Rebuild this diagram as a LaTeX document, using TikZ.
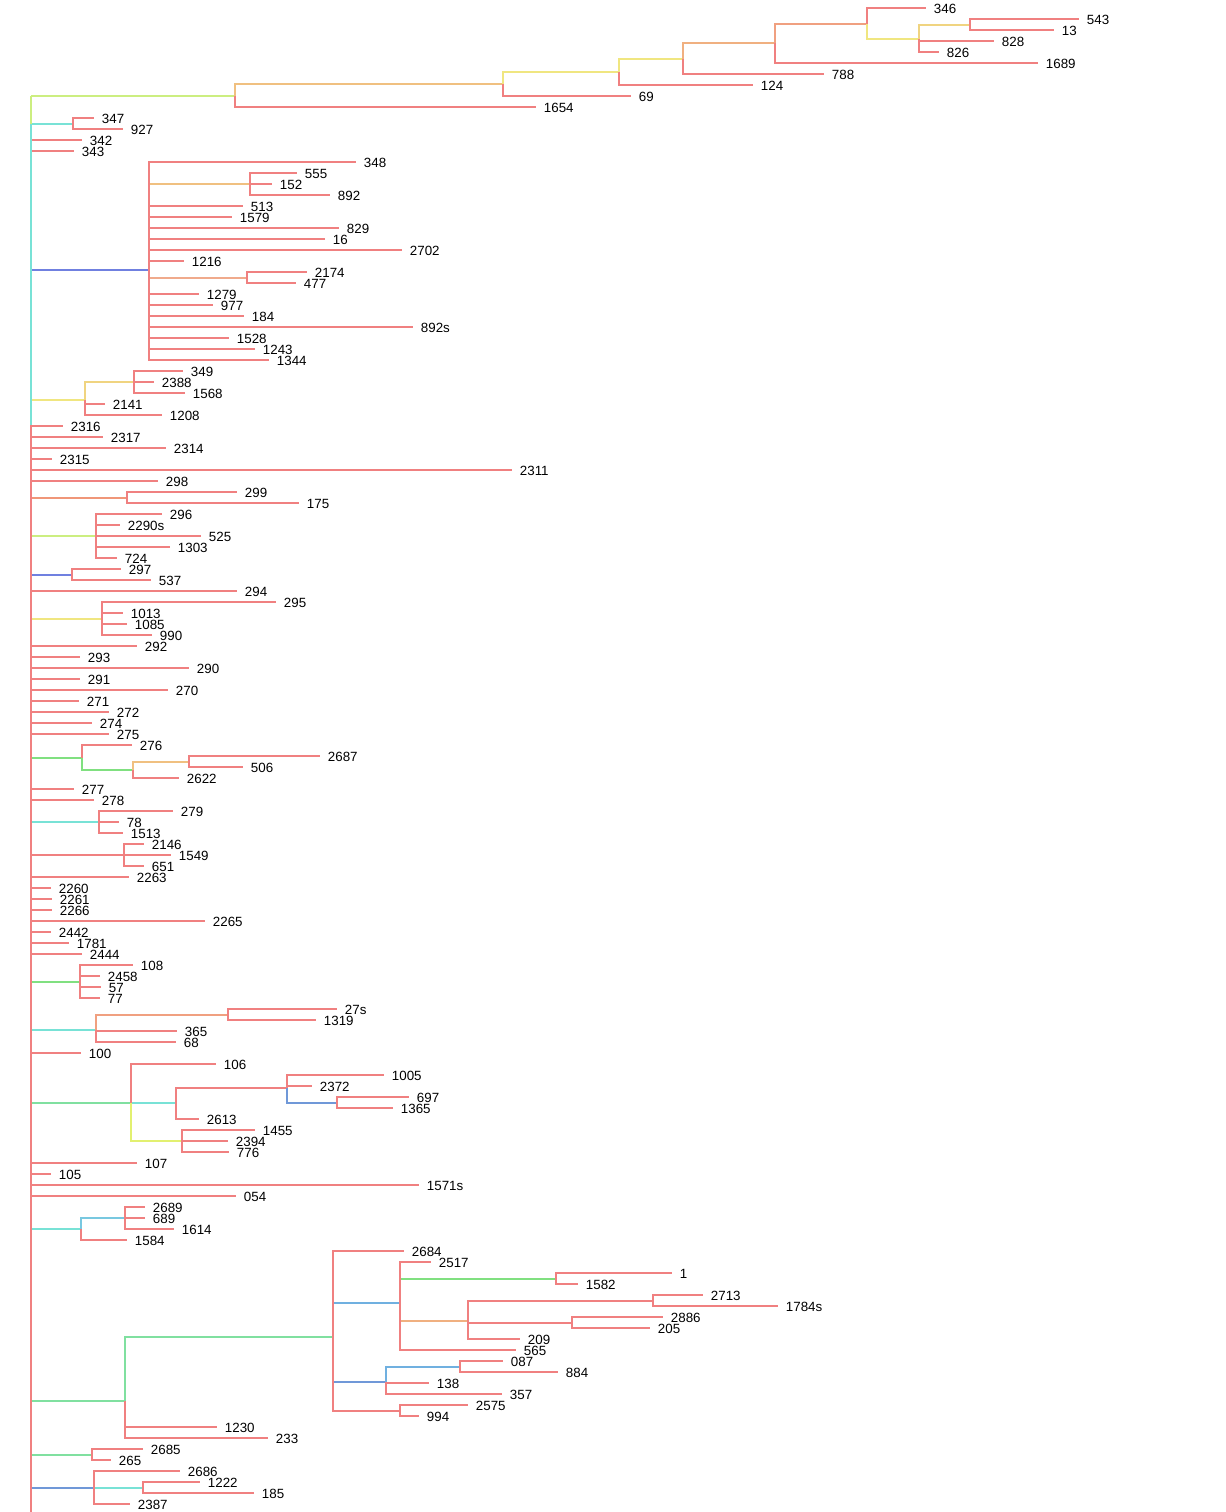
\documentclass[tikz,border=0pt]{standalone}
\usepackage{fontspec}
\setmainfont{Liberation Sans}
\usepackage{xcolor}

\definecolor{tred}{RGB}{240,128,128}
\definecolor{tcyan}{RGB}{120,226,214}
\definecolor{tblue}{RGB}{112,128,224}
\definecolor{tlime}{RGB}{204,238,128}
\definecolor{tchart}{RGB}{226,240,112}
\definecolor{torange}{RGB}{240,192,128}
\definecolor{tamber}{RGB}{240,176,128}
\definecolor{tyellow}{RGB}{240,230,128}
\definecolor{tgold}{RGB}{240,212,128}
\definecolor{tsalmon}{RGB}{240,160,128}
\definecolor{tcoral}{RGB}{240,150,120}
\definecolor{tpeach}{RGB}{240,170,140}
\definecolor{tgreen}{RGB}{128,224,128}
\definecolor{tmint}{RGB}{128,224,160}
\definecolor{tsky}{RGB}{120,200,224}
\definecolor{tazure}{RGB}{112,176,224}
\definecolor{tsteel}{RGB}{112,152,216}

\begin{document}
\begin{tikzpicture}[
        x=0.02cm, y=-0.02cm,
        line width=1.6pt,
        leaf/.style={anchor=west, inner xsep=0.13cm, inner ysep=0pt,
                text height=0.215cm, text depth=0pt,
                font=\fontsize{7.6}{9}\selectfont}
    ]
    \useasboundingbox (0,0) rectangle (1225,1512);

    % internal nodes
    \coordinate (root) at (31,96);
    \coordinate (split) at (31,425);
    \coordinate (bottom) at (31,1512);
    \coordinate (n1654) at (235,96);
    \coordinate (n69) at (503,84);
    \coordinate (n124) at (619,72);
    \coordinate (n788) at (683,59);
    \coordinate (n1689) at (775,43);
    \coordinate (n346) at (867,24);
    \coordinate (n828) at (919,39);
    \coordinate (n543) at (970,25);
    \coordinate (n347) at (73,124);
    \coordinate (n348) at (149,270);
    \coordinate (n555) at (250,184);
    \coordinate (n2174) at (247,278);
    \coordinate (n2141) at (85,400);
    \coordinate (n349) at (134,382);
    \coordinate (n299) at (127,498);
    \coordinate (n296) at (96,536);
    \coordinate (n297) at (72,575);
    \coordinate (n295) at (102,619);
    \coordinate (n276) at (82,758);
    \coordinate (n2622) at (133,770);
    \coordinate (n2687) at (189,762);
    \coordinate (n279) at (99,822);
    \coordinate (n2146) at (124,855);
    \coordinate (n108) at (80,982);
    \coordinate (n365) at (96,1030);
    \coordinate (n27s) at (228,1015);
    \coordinate (n106) at (131,1103);
    \coordinate (n2613) at (176,1103);
    \coordinate (n1005) at (287,1088);
    \coordinate (n697) at (337,1103);
    \coordinate (n1455) at (182,1141);
    \coordinate (n1584) at (81,1229);
    \coordinate (n2689) at (125,1218);
    \coordinate (n1230) at (125,1401);
    \coordinate (n2684) at (333,1337);
    \coordinate (n2517) at (400,1303);
    \coordinate (n1) at (556,1279);
    \coordinate (n209) at (468,1321);
    \coordinate (n2713) at (653,1301);
    \coordinate (n2886) at (572,1323);
    \coordinate (n087) at (386,1382);
    \coordinate (n884) at (460,1367);
    \coordinate (n2575) at (400,1411);
    \coordinate (n2685) at (92,1455);
    \coordinate (n2686) at (94,1488);
    \coordinate (n1222) at (143,1488);

    % tips
    \node[leaf] (t346) at (926,8) {346};
    \node[leaf] (t543) at (1079,19) {543};
    \node[leaf] (t13) at (1054,30) {13};
    \node[leaf] (t828) at (994,41) {828};
    \node[leaf] (t826) at (939,52) {826};
    \node[leaf] (t1689) at (1038,63) {1689};
    \node[leaf] (t788) at (824,74) {788};
    \node[leaf] (t124) at (753,85) {124};
    \node[leaf] (t69) at (631,96) {69};
    \node[leaf] (t1654) at (536,107) {1654};
    \node[leaf] (t347) at (94,118) {347};
    \node[leaf] (t927) at (123,129) {927};
    \node[leaf] (t342) at (82,140) {342};
    \node[leaf] (t343) at (74,151) {343};
    \node[leaf] (t348) at (356,162) {348};
    \node[leaf] (t555) at (297,173) {555};
    \node[leaf] (t152) at (272,184) {152};
    \node[leaf] (t892) at (330,195) {892};
    \node[leaf] (t513) at (243,206) {513};
    \node[leaf] (t1579) at (232,217) {1579};
    \node[leaf] (t829) at (339,228) {829};
    \node[leaf] (t16) at (325,239) {16};
    \node[leaf] (t2702) at (402,250) {2702};
    \node[leaf] (t1216) at (184,261) {1216};
    \node[leaf] (t2174) at (307,272) {2174};
    \node[leaf] (t477) at (296,283) {477};
    \node[leaf] (t1279) at (199,294) {1279};
    \node[leaf] (t977) at (213,305) {977};
    \node[leaf] (t184) at (244,316) {184};
    \node[leaf] (t892s) at (413,327) {892s};
    \node[leaf] (t1528) at (229,338) {1528};
    \node[leaf] (t1243) at (255,349) {1243};
    \node[leaf] (t1344) at (269,360) {1344};
    \node[leaf] (t349) at (183,371) {349};
    \node[leaf] (t2388) at (154,382) {2388};
    \node[leaf] (t1568) at (185,393) {1568};
    \node[leaf] (t2141) at (105,404) {2141};
    \node[leaf] (t1208) at (162,415) {1208};
    \node[leaf] (t2316) at (63,426) {2316};
    \node[leaf] (t2317) at (103,437) {2317};
    \node[leaf] (t2314) at (166,448) {2314};
    \node[leaf] (t2315) at (52,459) {2315};
    \node[leaf] (t2311) at (512,470) {2311};
    \node[leaf] (t298) at (158,481) {298};
    \node[leaf] (t299) at (237,492) {299};
    \node[leaf] (t175) at (299,503) {175};
    \node[leaf] (t296) at (162,514) {296};
    \node[leaf] (t2290s) at (120,525) {2290s};
    \node[leaf] (t525) at (201,536) {525};
    \node[leaf] (t1303) at (170,547) {1303};
    \node[leaf] (t724) at (117,558) {724};
    \node[leaf] (t297) at (121,569) {297};
    \node[leaf] (t537) at (151,580) {537};
    \node[leaf] (t294) at (237,591) {294};
    \node[leaf] (t295) at (276,602) {295};
    \node[leaf] (t1013) at (123,613) {1013};
    \node[leaf] (t1085) at (127,624) {1085};
    \node[leaf] (t990) at (152,635) {990};
    \node[leaf] (t292) at (137,646) {292};
    \node[leaf] (t293) at (80,657) {293};
    \node[leaf] (t290) at (189,668) {290};
    \node[leaf] (t291) at (80,679) {291};
    \node[leaf] (t270) at (168,690) {270};
    \node[leaf] (t271) at (79,701) {271};
    \node[leaf] (t272) at (109,712) {272};
    \node[leaf] (t274) at (92,723) {274};
    \node[leaf] (t275) at (109,734) {275};
    \node[leaf] (t276) at (132,745) {276};
    \node[leaf] (t2687) at (320,756) {2687};
    \node[leaf] (t506) at (243,767) {506};
    \node[leaf] (t2622) at (179,778) {2622};
    \node[leaf] (t277) at (74,789) {277};
    \node[leaf] (t278) at (94,800) {278};
    \node[leaf] (t279) at (173,811) {279};
    \node[leaf] (t78) at (119,822) {78};
    \node[leaf] (t1513) at (123,833) {1513};
    \node[leaf] (t2146) at (144,844) {2146};
    \node[leaf] (t1549) at (171,855) {1549};
    \node[leaf] (t651) at (144,866) {651};
    \node[leaf] (t2263) at (129,877) {2263};
    \node[leaf] (t2260) at (51,888) {2260};
    \node[leaf] (t2261) at (52,899) {2261};
    \node[leaf] (t2266) at (52,910) {2266};
    \node[leaf] (t2265) at (205,921) {2265};
    \node[leaf] (t2442) at (51,932) {2442};
    \node[leaf] (t1781) at (69,943) {1781};
    \node[leaf] (t2444) at (82,954) {2444};
    \node[leaf] (t108) at (133,965) {108};
    \node[leaf] (t2458) at (100,976) {2458};
    \node[leaf] (t57) at (101,987) {57};
    \node[leaf] (t77) at (100,998) {77};
    \node[leaf] (t27s) at (337,1009) {27s};
    \node[leaf] (t1319) at (316,1020) {1319};
    \node[leaf] (t365) at (177,1031) {365};
    \node[leaf] (t68) at (176,1042) {68};
    \node[leaf] (t100) at (81,1053) {100};
    \node[leaf] (t106) at (216,1064) {106};
    \node[leaf] (t1005) at (384,1075) {1005};
    \node[leaf] (t2372) at (312,1086) {2372};
    \node[leaf] (t697) at (409,1097) {697};
    \node[leaf] (t1365) at (393,1108) {1365};
    \node[leaf] (t2613) at (199,1119) {2613};
    \node[leaf] (t1455) at (255,1130) {1455};
    \node[leaf] (t2394) at (228,1141) {2394};
    \node[leaf] (t776) at (229,1152) {776};
    \node[leaf] (t107) at (137,1163) {107};
    \node[leaf] (t105) at (51,1174) {105};
    \node[leaf] (t1571s) at (419,1185) {1571s};
    \node[leaf] (t054) at (236,1196) {054};
    \node[leaf] (t2689) at (145,1207) {2689};
    \node[leaf] (t689) at (145,1218) {689};
    \node[leaf] (t1614) at (174,1229) {1614};
    \node[leaf] (t1584) at (127,1240) {1584};
    \node[leaf] (t2684) at (404,1251) {2684};
    \node[leaf] (t2517) at (431,1262) {2517};
    \node[leaf] (t1) at (672,1273) {1};
    \node[leaf] (t1582) at (578,1284) {1582};
    \node[leaf] (t2713) at (703,1295) {2713};
    \node[leaf] (t1784s) at (778,1306) {1784s};
    \node[leaf] (t2886) at (663,1317) {2886};
    \node[leaf] (t205) at (650,1328) {205};
    \node[leaf] (t209) at (520,1339) {209};
    \node[leaf] (t565) at (516,1350) {565};
    \node[leaf] (t087) at (503,1361) {087};
    \node[leaf] (t884) at (558,1372) {884};
    \node[leaf] (t138) at (429,1383) {138};
    \node[leaf] (t357) at (502,1394) {357};
    \node[leaf] (t2575) at (468,1405) {2575};
    \node[leaf] (t994) at (419,1416) {994};
    \node[leaf] (t1230) at (217,1427) {1230};
    \node[leaf] (t233) at (268,1438) {233};
    \node[leaf] (t2685) at (143,1449) {2685};
    \node[leaf] (t265) at (111,1460) {265};
    \node[leaf] (t2686) at (180,1471) {2686};
    \node[leaf] (t1222) at (200,1482) {1222};
    \node[leaf] (t185) at (254,1493) {185};
    \node[leaf] (t2387) at (130,1504) {2387};

    % top clade
    \draw[tlime] (root) -- (n1654);
    \draw[torange] (n1654) |- (n69);
    \draw[tred] (n1654) |- (t1654.west);
    \draw[tyellow] (n69) |- (n124);
    \draw[tred] (n69) |- (t69.west);
    \draw[tyellow] (n124) |- (n788);
    \draw[tred] (n124) |- (t124.west);
    \draw[tamber] (n788) |- (n1689);
    \draw[tred] (n788) |- (t788.west);
    \draw[tsalmon] (n1689) |- (n346);
    \draw[tred] (n1689) |- (t1689.west);
    \draw[tred] (n346) |- (t346.west);
    \draw[tyellow] (n346) |- (n828);
    \draw[tgold] (n828) |- (n543);
    \draw[tred] (n828) |- (t828.west) (n828) |- (t826.west);
    \draw[tred] (n543) |- (t543.west) (n543) |- (t13.west);

    % upper part of the spine
    \draw[tcyan] (root |- n347) -- (n347);
    \draw[tred] (n347) |- (t347.west) (n347) |- (t927.west);
    \draw[tred] (root |- t342.west) -- (t342.west);
    \draw[tred] (root |- t343.west) -- (t343.west);

    \draw[tblue] (root |- n348) -- (n348);
    \draw[torange] (n348) |- (n555);
    \draw[tpeach] (n348) |- (n2174);
    \draw[tred] (n555) |- (t555.west) (n555) |- (t152.west) (n555) |- (t892.west);
    \draw[tred] (n2174) |- (t2174.west) (n2174) |- (t477.west);
    \draw[tred] (n348) |- (t348.west) (n348) |- (t513.west) (n348) |- (t1579.west)
        (n348) |- (t829.west) (n348) |- (t16.west) (n348) |- (t2702.west)
        (n348) |- (t1216.west) (n348) |- (t1279.west) (n348) |- (t977.west)
        (n348) |- (t184.west) (n348) |- (t892s.west) (n348) |- (t1528.west)
        (n348) |- (t1243.west) (n348) |- (t1344.west);

    \draw[tyellow] (root |- n2141) -- (n2141);
    \draw[tgold] (n2141) |- (n349);
    \draw[tred] (n349) |- (t349.west) (n349) |- (t2388.west) (n349) |- (t1568.west);
    \draw[tred] (n2141) |- (t2141.west) (n2141) |- (t1208.west);

    % lower part of the spine
    \draw[tred] (root |- t2316.west) -- (t2316.west);
    \draw[tred] (root |- t2317.west) -- (t2317.west);
    \draw[tred] (root |- t2314.west) -- (t2314.west);
    \draw[tred] (root |- t2315.west) -- (t2315.west);
    \draw[tred] (root |- t2311.west) -- (t2311.west);
    \draw[tred] (root |- t298.west) -- (t298.west);

    \draw[tcoral] (root |- n299) -- (n299);
    \draw[tred] (n299) |- (t299.west) (n299) |- (t175.west);

    \draw[tlime] (root |- n296) -- (n296);
    \draw[tred] (n296) |- (t296.west) (n296) |- (t2290s.west) (n296) |- (t525.west)
        (n296) |- (t1303.west) (n296) |- (t724.west);

    \draw[tblue] (root |- n297) -- (n297);
    \draw[tred] (n297) |- (t297.west) (n297) |- (t537.west);

    \draw[tred] (root |- t294.west) -- (t294.west);

    \draw[tyellow] (root |- n295) -- (n295);
    \draw[tred] (n295) |- (t295.west) (n295) |- (t1013.west) (n295) |- (t1085.west)
        (n295) |- (t990.west);

    \draw[tred] (root |- t292.west) -- (t292.west);
    \draw[tred] (root |- t293.west) -- (t293.west);
    \draw[tred] (root |- t290.west) -- (t290.west);
    \draw[tred] (root |- t291.west) -- (t291.west);
    \draw[tred] (root |- t270.west) -- (t270.west);
    \draw[tred] (root |- t271.west) -- (t271.west);
    \draw[tred] (root |- t272.west) -- (t272.west);
    \draw[tred] (root |- t274.west) -- (t274.west);
    \draw[tred] (root |- t275.west) -- (t275.west);

    \draw[tgreen] (root |- n276) -- (n276);
    \draw[tgreen] (n276) |- (n2622);
    \draw[tred] (n276) |- (t276.west);
    \draw[torange] (n2622) |- (n2687);
    \draw[tred] (n2622) |- (t2622.west);
    \draw[tred] (n2687) |- (t2687.west) (n2687) |- (t506.west);

    \draw[tred] (root |- t277.west) -- (t277.west);
    \draw[tred] (root |- t278.west) -- (t278.west);

    \draw[tcyan] (root |- n279) -- (n279);
    \draw[tred] (n279) |- (t279.west) (n279) |- (t78.west) (n279) |- (t1513.west);

    \draw[tred] (root |- n2146) -- (n2146);
    \draw[tred] (n2146) |- (t2146.west) (n2146) |- (t1549.west) (n2146) |- (t651.west);

    \draw[tred] (root |- t2263.west) -- (t2263.west);
    \draw[tred] (root |- t2260.west) -- (t2260.west);
    \draw[tred] (root |- t2261.west) -- (t2261.west);
    \draw[tred] (root |- t2266.west) -- (t2266.west);
    \draw[tred] (root |- t2265.west) -- (t2265.west);
    \draw[tred] (root |- t2442.west) -- (t2442.west);
    \draw[tred] (root |- t1781.west) -- (t1781.west);
    \draw[tred] (root |- t2444.west) -- (t2444.west);

    \draw[tgreen] (root |- n108) -- (n108);
    \draw[tred] (n108) |- (t108.west) (n108) |- (t2458.west) (n108) |- (t57.west)
        (n108) |- (t77.west);

    \draw[tcyan] (root |- n365) -- (n365);
    \draw[tsalmon] (n365) |- (n27s);
    \draw[tred] (n27s) |- (t27s.west) (n27s) |- (t1319.west);
    \draw[tred] (n365) |- (t365.west) (n365) |- (t68.west);

    \draw[tred] (root |- t100.west) -- (t100.west);

    \draw[tmint] (root |- n106) -- (n106);
    \draw[tcyan] (n106) |- (n2613);
    \draw[tchart] (n106) |- (n1455);
    \draw[tred] (n106) |- (t106.west);
    \draw[tred] (n2613) |- (n1005) (n2613) |- (t2613.west);
    \draw[tsteel] (n1005) |- (n697);
    \draw[tred] (n1005) |- (t1005.west) (n1005) |- (t2372.west);
    \draw[tred] (n697) |- (t697.west) (n697) |- (t1365.west);
    \draw[tred] (n1455) |- (t1455.west) (n1455) |- (t2394.west) (n1455) |- (t776.west);

    \draw[tred] (root |- t107.west) -- (t107.west);
    \draw[tred] (root |- t105.west) -- (t105.west);
    \draw[tred] (root |- t1571s.west) -- (t1571s.west);
    \draw[tred] (root |- t054.west) -- (t054.west);

    \draw[tcyan] (root |- n1584) -- (n1584);
    \draw[tsky] (n1584) |- (n2689);
    \draw[tred] (n1584) |- (t1584.west);
    \draw[tred] (n2689) |- (t2689.west) (n2689) |- (t689.west) (n2689) |- (t1614.west);

    \draw[tmint] (root |- n1230) -- (n1230);
    \draw[tmint] (n1230) |- (n2684);
    \draw[tred] (n1230) |- (t1230.west) (n1230) |- (t233.west);
    \draw[tazure] (n2684) |- (n2517);
    \draw[tsteel] (n2684) |- (n087);
    \draw[tred] (n2684) |- (t2684.west) (n2684) |- (n2575);
    \draw[tgreen] (n2517) |- (n1);
    \draw[tamber] (n2517) |- (n209);
    \draw[tred] (n2517) |- (t2517.west) (n2517) |- (t565.west);
    \draw[tred] (n1) |- (t1.west) (n1) |- (t1582.west);
    \draw[tred] (n209) |- (n2713) (n209) |- (n2886) (n209) |- (t209.west);
    \draw[tred] (n2713) |- (t2713.west) (n2713) |- (t1784s.west);
    \draw[tred] (n2886) |- (t2886.west) (n2886) |- (t205.west);
    \draw[tazure] (n087) |- (n884);
    \draw[tred] (n087) |- (t138.west) (n087) |- (t357.west);
    \draw[tred] (n884) |- (t087.west) (n884) |- (t884.west);
    \draw[tred] (n2575) |- (t2575.west) (n2575) |- (t994.west);

    \draw[tmint] (root |- n2685) -- (n2685);
    \draw[tred] (n2685) |- (t2685.west) (n2685) |- (t265.west);

    \draw[tsteel] (root |- n2686) -- (n2686);
    \draw[tcyan] (n2686) -- (n1222);
    \draw[tred] (n2686) |- (t2686.west) (n2686) |- (t2387.west);
    \draw[tred] (n1222) |- (t1222.west) (n1222) |- (t185.west);

    % spine
    \draw[tlime] (root) -- (root |- n347);
    \draw[tcyan] (root |- n347) -- (split);
    \draw[tred] (split) -- (bottom);
\end{tikzpicture}
\end{document}
